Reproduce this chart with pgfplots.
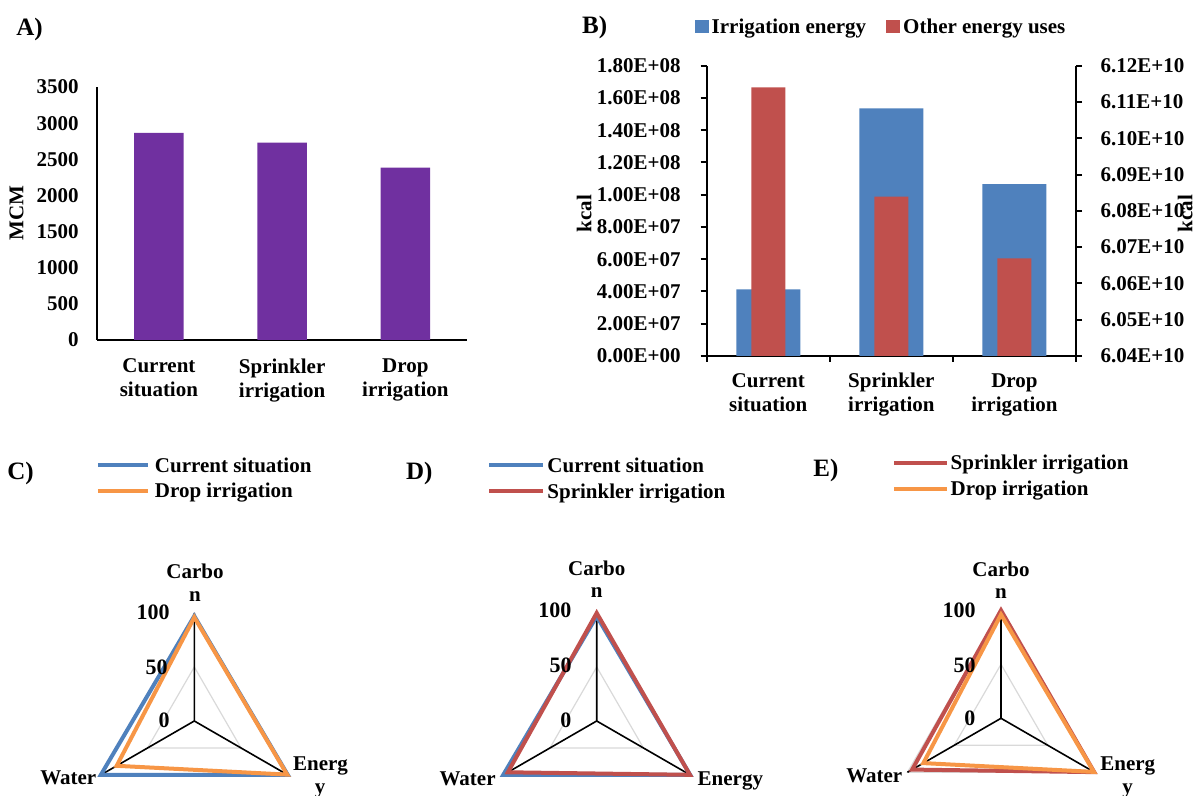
\documentclass[border=0pt]{standalone}
\usepackage{fontspec}
\setmainfont{Liberation Serif}
\usepackage{pgfplots}
\pgfplotsset{compat=1.18}
\usepgfplotslibrary{polar}
\definecolor{cpurple}{HTML}{7030A0}
\definecolor{cblue}{HTML}{4F81BD}
\definecolor{cred}{HTML}{C0504D}
\definecolor{corange}{HTML}{F79646}
\definecolor{cgrid}{HTML}{D9D9D9}
\newcommand{\fs}{\fontsize{10.5}{12}\selectfont\bfseries}
\newcommand{\fp}{\fontsize{12.5}{14}\selectfont\bfseries}
\newcommand{\fr}{\fontsize{11}{12}\selectfont\bfseries}
\pgfplotsset{
  radar/.style={anchor=center, x=0.54pt, y=0.54pt, xmin=-150, xmax=150, ymin=-150, ymax=150,
    hide axis, clip=false, data cs=polar,
    legend cell align=left,
    legend style={draw=none, fill=none, inner sep=0pt, outer sep=0pt, anchor=north west,
      font=\fs, row sep=2.85pt, nodes={inner sep=0pt, text height=7.5pt, text depth=2.5pt}}},
  gridline/.style={cgrid, line width=0.6pt, forget plot},
  spoke/.style={black, line width=0.8pt, forget plot},
  dataline/.style={line width=2pt, line join=miter},
}
\begin{document}
\begin{tikzpicture}
\useasboundingbox (0,0) rectangle (598pt,398pt);

% ---------------- Panel A ----------------
\begin{axis}[at={(48.65pt,228pt)}, anchor=south west, scale only axis,
  width=184.85pt, height=126.5pt,
  xmin=-0.5, xmax=2.5, ymin=0, ymax=3500,
  axis x line*=bottom, axis y line*=left, axis line style={-, line width=1pt},
  major tick length=0pt,
  ytick={0,500,1000,1500,2000,2500,3000,3500},
  xtick={0,1,2},
  xticklabels={{Current\\situation},{Sprinkler\\irrigation},{Drop\\irrigation}},
  tick label style={font=\fs},
  yticklabel style={inner sep=0pt, xshift=-9.15pt},
  xticklabel style={inner sep=0pt, yshift=-9.15pt, align=center},
  /pgf/number format/assume math mode=true, /pgf/number format/1000 sep={},
  scaled y ticks=false, clip=false]
\addplot[ybar, bar width=24.8pt, bar shift=0pt, fill=cpurple, draw=none]
  coordinates {(0,2865) (1,2730) (2,2385)};
\end{axis}

% ---------------- Panel B (left axis) ----------------
\begin{axis}[at={(353.35pt,220pt)}, anchor=south west, scale only axis,
  width=184.65pt, height=145.15pt,
  xmin=-0.5, xmax=2.5, ymin=0, ymax=1.8e8,
  axis x line*=bottom, axis y line*=left, axis line style={-, line width=1pt},
  tick align=outside, major tick length=3pt, tick style={black, line width=1pt},
  ytick={0,2e7,4e7,6e7,8e7,1e8,1.2e8,1.4e8,1.6e8,1.8e8},
  yticklabels={0.00E+00,2.00E+07,4.00E+07,6.00E+07,8.00E+07,1.00E+08,1.20E+08,1.40E+08,1.60E+08,1.80E+08},
  xtick={-0.5,0.5,1.5,2.5}, xticklabels={,,,},
  extra x ticks={0,1,2},
  extra x tick labels={{Current\\situation},{Sprinkler\\irrigation},{Drop\\irrigation}},
  extra x tick style={major tick length=0pt,
    tick label style={align=center, inner sep=0pt, yshift=-8.5pt}},
  tick label style={font=\fs},
  yticklabel style={inner sep=0pt, xshift=-9.85pt},
  scaled y ticks=false,
  ybar, bar width=32pt, bar shift=0pt]
\addplot[fill=cblue, draw=none] coordinates {(0,4.13e7) (1,1.536e8) (2,1.065e8)};
\end{axis}

% ---------------- Panel B (right axis) ----------------
\begin{axis}[at={(353.35pt,220pt)}, anchor=south west, scale only axis,
  width=184.65pt, height=145.15pt,
  xmin=-0.5, xmax=2.5, ymin=6.04e10, ymax=6.12e10,
  axis y line*=right, axis x line=none, axis line style={-, line width=1pt},
  tick align=outside, major tick length=3pt, tick style={black, line width=1pt},
  ytick={6.04e10,6.05e10,6.06e10,6.07e10,6.08e10,6.09e10,6.10e10,6.11e10,6.12e10},
  yticklabels={6.04E+10,6.05E+10,6.06E+10,6.07E+10,6.08E+10,6.09E+10,6.10E+10,6.11E+10,6.12E+10},
  tick label style={font=\fs},
  yticklabel style={inner sep=0pt, xshift=9.15pt},
  scaled y ticks=false,
  ybar, bar width=17pt, bar shift=0pt,
  legend columns=2, legend cell align=left,
  legend image code/.code={\fill[#1] (0pt,-2.5pt) rectangle (7pt,4.3pt);},
  legend style={draw=none, fill=none, inner sep=0pt, outer sep=0pt,
    at={(-0.0317,1.1633)}, anchor=north west, font=\fs,
    nodes={inner sep=0pt, text height=7.5pt, text depth=2.5pt},
    /tikz/column 1/.style={column sep=1.35pt},
    /tikz/column 2/.style={column sep=9.85pt},
    /tikz/column 3/.style={column sep=1.65pt}}]
\addlegendimage{fill=cblue, draw=none}
\addlegendentry{Irrigation energy}
\addplot[fill=cred, draw=none] coordinates {(0,6.1140e10) (1,6.0839e10) (2,6.0669e10)};
\addlegendentry{Other energy uses}
\end{axis}

% ---------------- Panel C ----------------
\begin{axis}[radar, at={(97.15pt,37.5pt)},
  legend image code/.code={\draw[#1] (0pt,1.15pt) -- (25pt,1.15pt);},
  legend style={at={(0.1965,1.3139)}, /tikz/column 1/.style={column sep=2.5pt}}]
\addplot[gridline] coordinates {(90,50) (-30,50) (210,50)} -- cycle;
\addplot[gridline] coordinates {(90,100) (-30,100) (210,100)} -- cycle;
\addplot[spoke] coordinates {(90,100) (0,0) (-30,100)};
\addplot[spoke] coordinates {(0,0) (210,100)};
\addplot[dataline, cblue] coordinates {(90,97) (-30,100) (210,100)} -- cycle;
\addlegendentry{Current situation}
\addplot[dataline, corange] coordinates {(90,96) (-30,99.3) (210,83)} -- cycle;
\addlegendentry{Drop irrigation}
\end{axis}

% ---------------- Panel D ----------------
\begin{axis}[radar, at={(298.35pt,37.5pt)},
  legend image code/.code={\draw[#1] (0pt,1.15pt) -- (27pt,1.15pt);},
  legend style={at={(0.1615,1.3139)}, row sep=3pt, /tikz/column 1/.style={column sep=1.2pt}}]
\addplot[gridline] coordinates {(90,50) (-30,50) (210,50)} -- cycle;
\addplot[gridline] coordinates {(90,100) (-30,100) (210,100)} -- cycle;
\addplot[spoke] coordinates {(90,100) (0,0) (-30,100)};
\addplot[spoke] coordinates {(0,0) (210,100)};
\addplot[dataline, cblue] coordinates {(90,97) (-30,100) (210,100)} -- cycle;
\addlegendentry{Current situation}
\addplot[dataline, cred] coordinates {(90,100) (-30,99.7) (210,95)} -- cycle;
\addlegendentry{Sprinkler irrigation}
\end{axis}

% ---------------- Panel E ----------------
\begin{axis}[radar, at={(500.5pt,38.85pt)},
  legend image code/.code={\draw[#1] (0pt,1.15pt) -- (26.5pt,1.15pt);},
  legend style={at={(0.1637,1.3127)}, row sep=3pt, /tikz/column 1/.style={column sep=0.85pt}}]
\addplot[gridline] coordinates {(90,50) (-30,50) (210,50)} -- cycle;
\addplot[gridline] coordinates {(90,100) (-30,100) (210,100)} -- cycle;
\addplot[spoke] coordinates {(90,100) (0,0) (-30,100)};
\addplot[spoke] coordinates {(0,0) (210,100)};
\addplot[dataline, cred] coordinates {(90,100) (-30,99.7) (210,95)} -- cycle;
\addlegendentry{Sprinkler irrigation}
\addplot[dataline, corange] coordinates {(90,96) (-30,99.3) (210,83)} -- cycle;
\addlegendentry{Drop irrigation}
\end{axis}

% ---------------- Texts ----------------
\node[font=\fp, anchor=base west, inner sep=0pt] at (8pt,380.15pt) {A)};
\node[font=\fp, anchor=base west, inner sep=0pt] at (290.85pt,381.35pt) {B)};
\node[font=\fp, anchor=base west, inner sep=0pt] at (3.5pt,158.35pt) {C)};
\node[font=\fp, anchor=base west, inner sep=0pt] at (202.8pt,158.35pt) {D)};
\node[font=\fp, anchor=base west, inner sep=0pt] at (406.5pt,159.65pt) {E)};

\node[font=\fs, rotate=90, inner sep=0pt] at (8.3pt,291.3pt) {MCM};
\node[font=\fs, rotate=90, inner sep=0pt] at (292.1pt,291.2pt) {kcal};
\node[font=\fs, rotate=90, inner sep=0pt] at (592.6pt,291.2pt) {kcal};

% radar C labels
\node[font=\fs, anchor=base, inner sep=0pt] at (97.5pt,108.85pt) {Carbo};
\node[font=\fs, anchor=base, inner sep=0pt] at (97.5pt,97.3pt) {n};
\node[font=\fr, anchor=base east, inner sep=0pt] at (85pt,88.35pt) {100};
\node[font=\fr, anchor=base east, inner sep=0pt] at (84pt,60.7pt) {50};
\node[font=\fr, anchor=base east, inner sep=0pt] at (85pt,34pt) {0};
\node[font=\fs, anchor=base east, inner sep=0pt] at (48.35pt,5.85pt) {Water};
\node[font=\fs, anchor=base west, inner sep=0pt] at (146.35pt,12.5pt) {Energ};
\node[font=\fs, anchor=base, inner sep=0pt] at (160pt,1pt) {y};

% radar D labels
\node[font=\fs, anchor=base, inner sep=0pt] at (298.35pt,110pt) {Carbo};
\node[font=\fs, anchor=base, inner sep=0pt] at (298.35pt,99pt) {n};
\node[font=\fr, anchor=base east, inner sep=0pt] at (285.85pt,89.2pt) {100};
\node[font=\fr, anchor=base east, inner sep=0pt] at (286pt,61.5pt) {50};
\node[font=\fr, anchor=base east, inner sep=0pt] at (285.85pt,34pt) {0};
\node[font=\fs, anchor=base east, inner sep=0pt] at (248pt,5pt) {Water};
\node[font=\fs, anchor=base west, inner sep=0pt] at (348.65pt,5pt) {Energy};

% radar E labels
\node[font=\fs, anchor=base, inner sep=0pt] at (500.5pt,109.5pt) {Carbo};
\node[font=\fs, anchor=base, inner sep=0pt] at (500.5pt,98.5pt) {n};
\node[font=\fr, anchor=base east, inner sep=0pt] at (488pt,89.2pt) {100};
\node[font=\fr, anchor=base east, inner sep=0pt] at (488pt,61.5pt) {50};
\node[font=\fr, anchor=base east, inner sep=0pt] at (487.85pt,35.2pt) {0};
\node[font=\fs, anchor=base east, inner sep=0pt] at (451.35pt,6.7pt) {Water};
\node[font=\fs, anchor=base west, inner sep=0pt] at (550pt,12.5pt) {Energ};
\node[font=\fs, anchor=base, inner sep=0pt] at (563.85pt,1pt) {y};
\end{tikzpicture}
\end{document}
